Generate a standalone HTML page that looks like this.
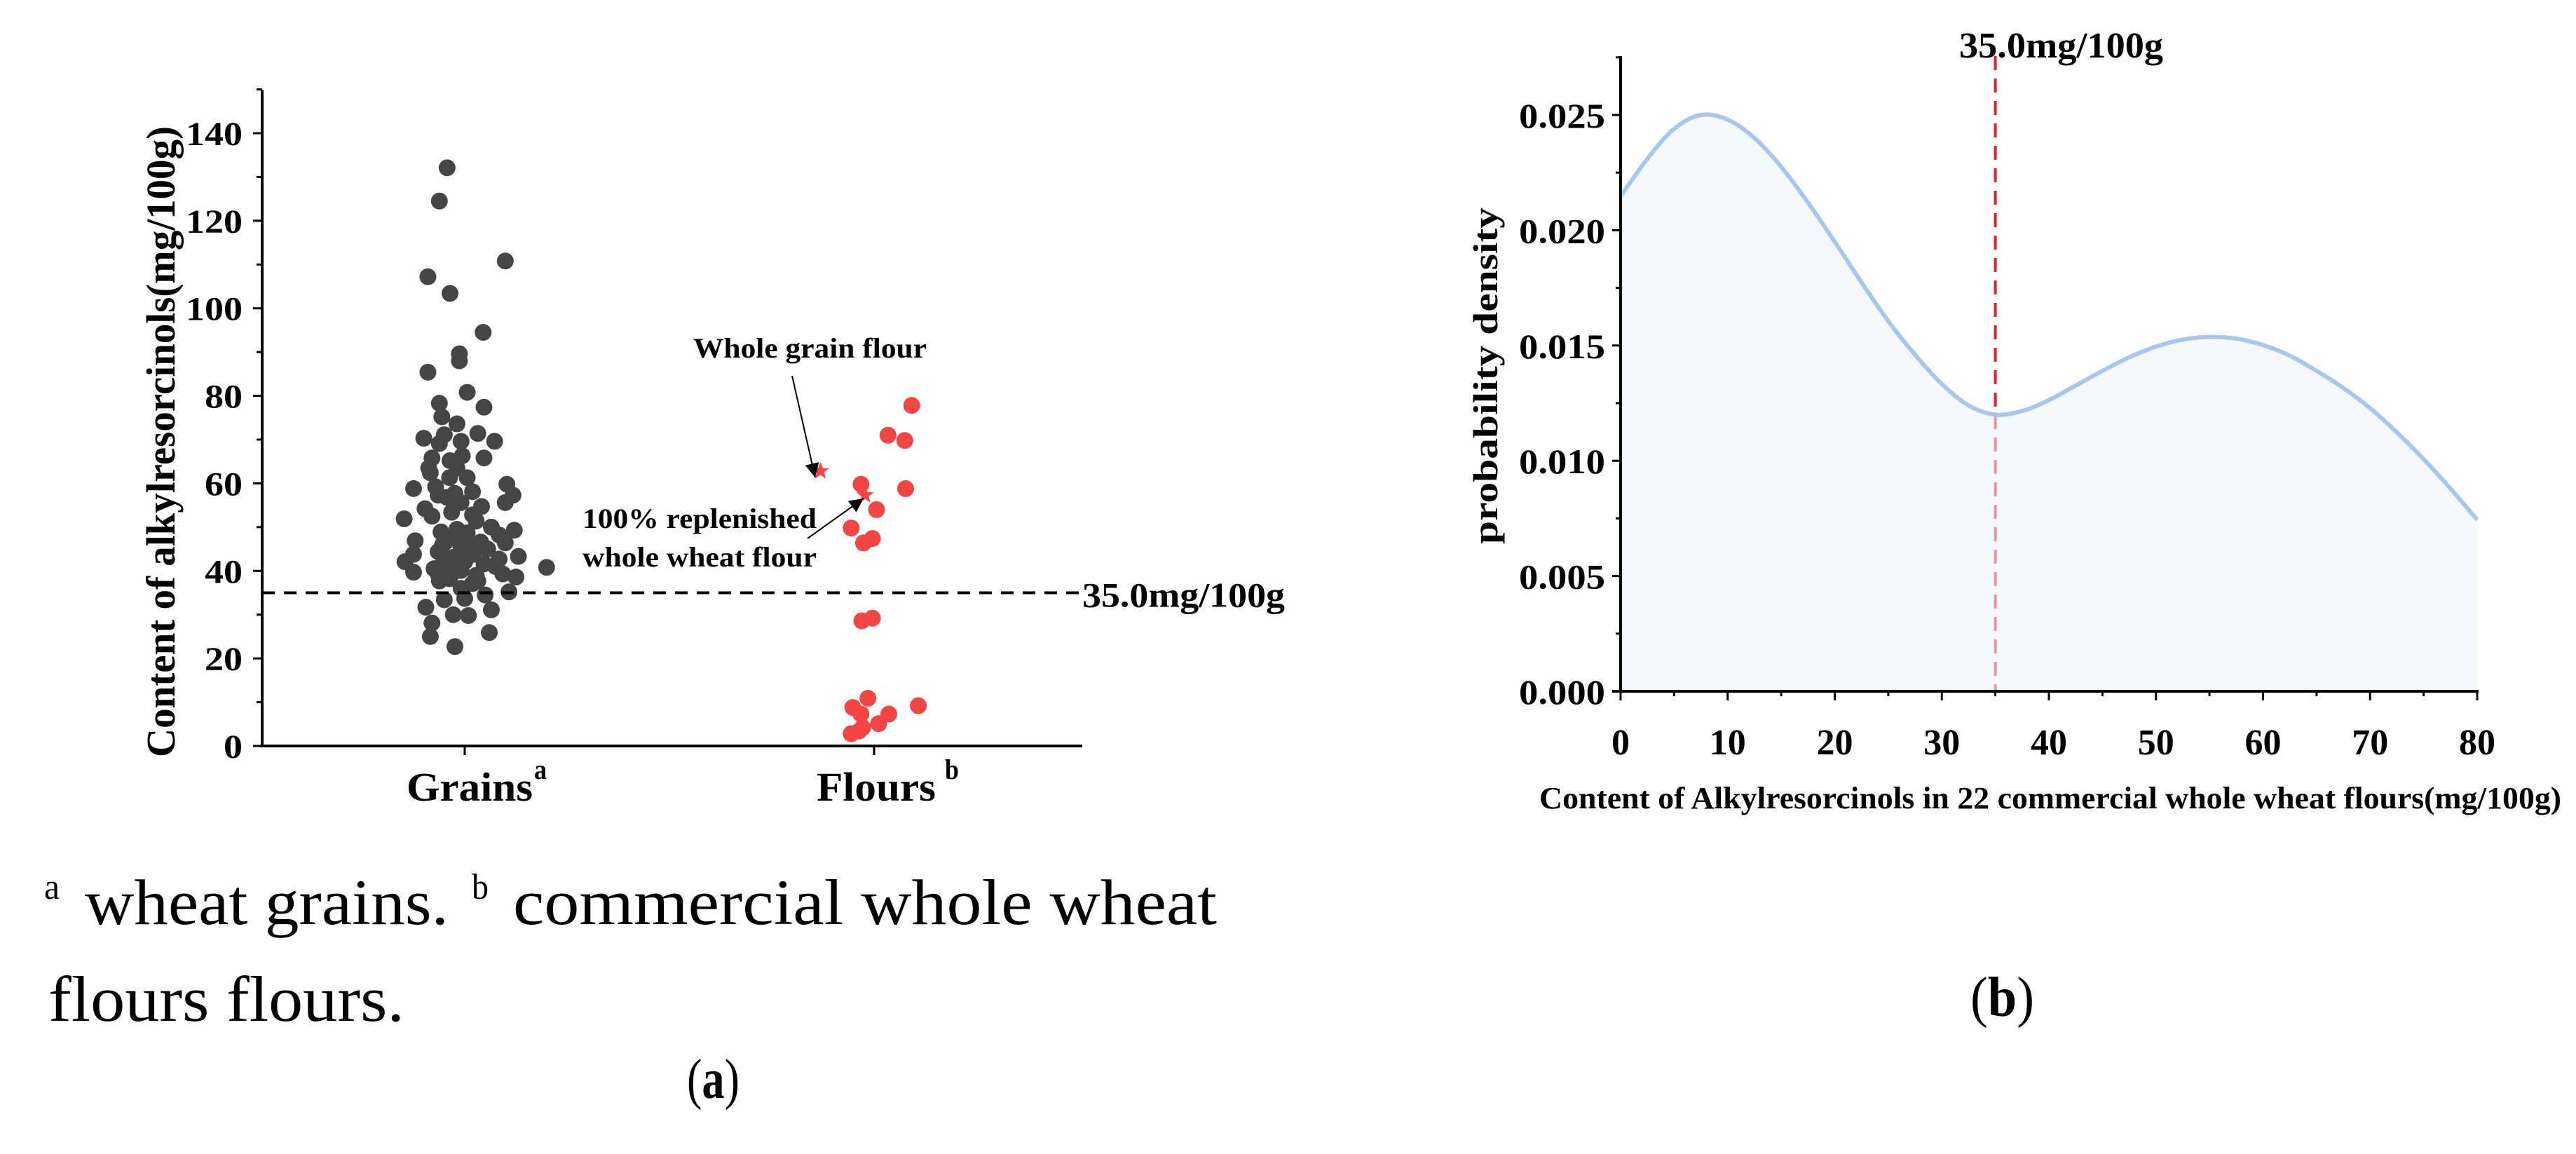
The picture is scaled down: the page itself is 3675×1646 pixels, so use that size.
<!DOCTYPE html>
<html><head><meta charset="utf-8">
<style>
html,body{margin:0;padding:0;background:#fff;}
svg{display:block;}
text{font-family:"Liberation Serif",serif;}
</style></head>
<body>
<svg id="fig" width="3675" height="1646" viewBox="0 0 3675 1646" xmlns="http://www.w3.org/2000/svg">
<defs>
<marker id="arr2" viewBox="0 0 10 10" refX="10" refY="5" markerWidth="26" markerHeight="20" markerUnits="userSpaceOnUse" orient="auto">
<path d="M0,0 L10,5 L0,10 z" fill="#000"/></marker>
</defs>
<g id="left"></g>
<g id="right"></g>
<g>
<text x="63" y="1282" font-size="52" textLength="22" lengthAdjust="spacingAndGlyphs">a</text>
<text x="121" y="1318" font-size="92" textLength="519" lengthAdjust="spacingAndGlyphs">wheat grains.</text>
<text x="673" y="1282" font-size="52" textLength="24" lengthAdjust="spacingAndGlyphs">b</text>
<text x="732" y="1318" font-size="92" textLength="1004" lengthAdjust="spacingAndGlyphs">commercial whole wheat</text>
<text x="69" y="1456" font-size="92" textLength="508" lengthAdjust="spacingAndGlyphs">flours flours.</text>
<text x="980" y="1566" font-size="80" textLength="75" lengthAdjust="spacingAndGlyphs">(<tspan font-weight="bold">a</tspan>)</text>
<text x="2811" y="1449" font-size="80" textLength="91" lengthAdjust="spacingAndGlyphs">(<tspan font-weight="bold">b</tspan>)</text>
</g>
</svg>
<script>
// ---------- Left chart data ----------
const categories = ['Grains', 'Flours'];
const grainValues = [132.1,124.5,110.8,107.2,103.4,94.5,89.6,88.0,85.4,80.8,78.3,77.4,75.2,73.6,70.3,71.1,71.4,69.6,69.6,69.1,65.8,65.8,65.2,66.3,63.5,63.5,62.4,61.3,61.3,59.8,58.8,59.2,58.1,57.3,57.7,55.6,57.3,54.7,54.2,53.4,52.8,52.5,51.9,51.4,50.0,49.3,48.9,48.7,48.2,47.8,46.9,46.6,46.4,46.0,45.5,45.0,44.4,43.8,43.8,43.3,43.1,42.7,42.1,42.1,41.2,41.6,40.8,40.5,40.1,39.7,39.3,39.0,38.6,38.2,37.7,37.7,36.0,34.5,35.2,33.4,33.7,31.7,31.1,30.0,29.8,28.1,25.0,25.9,22.7,42.1,39.9,46.6,46.6,49.5,37.1,41.0,39.3,55.6,56.8];
const grainJitter = [-0.043,-0.062,0.099,-0.09,-0.036,0.045,-0.013,-0.013,-0.09,0.006,-0.062,0.047,-0.056,-0.019,-0.1,-0.05,0.032,0.073,-0.009,-0.062,0.047,-0.08,-0.036,-0.006,-0.088,-0.019,-0.084,-0.037,0.006,0.103,-0.125,-0.071,0.019,0.118,-0.024,0.099,-0.065,0.041,-0.097,-0.032,0.019,-0.08,-0.148,0.028,0.065,0.121,-0.058,0.006,0.084,-0.022,-0.121,0.039,0.099,-0.054,-0.009,0.056,-0.065,0.021,-0.125,0.131,-0.028,0.084,-0.146,0,-0.056,0.047,0.2,-0.075,-0.009,-0.125,0.093,0.028,0.125,-0.037,-0.062,0.032,-0.009,0.05,0.108,-0.05,0,-0.095,0.065,-0.028,0.009,-0.08,-0.084,0.06,-0.024,-0.037,-0.024,0.009,-0.047,-0.019,0.019,0.075,-0.065,-0.009,-0.043];
const flourValues = [77.8,71.0,69.8,59.8,58.8,54.0,49.8,47.4,46.4,28.6,29.2,10.9,8.8,9.2,7.3,7.3,5.1,4.2,3.4,2.8];
const flourJitter = [0.092,0.034,0.075,-0.032,0.077,0.006,-0.056,-0.004,-0.026,-0.03,-0.004,-0.015,-0.052,0.108,-0.032,0.036,0.011,-0.028,-0.037,-0.056];
const starValues = [62.8, 57.3];
const starJitter = [-0.131, -0.022];
const leftYTicks = [0,20,40,60,80,100,120,140];
const thresholdValue = 35;

// ---------- Right chart data ----------
const kdeX = [0,2.5,5,7.5,10,12.5,15,17.5,20,22.5,25,27.5,30,32.5,35,37.5,40,42.5,45,47.5,50,52.5,55,57.5,60,62.5,65,67.5,70,72.5,75,77.5,80];
const kdeY = [0.02147,0.0231,0.02440,0.0250,0.0248,0.0240,0.02275,0.02120,0.0195,0.01774,0.01606,0.0146,0.01333,0.0124,0.0120,0.01216,0.01263,0.01326,0.0139,0.01449,0.01495,0.01526,0.01537,0.0153,0.01502,0.01456,0.0139,0.01316,0.01228,0.01123,0.01007,0.0088,0.00744];
const rightXTicks = [0,10,20,30,40,50,60,70,80];
const rightYTicks = [0,0.005,0.010,0.015,0.020,0.025];
const rightYTickLabels = ['0.000','0.005','0.010','0.015','0.020','0.025'];

const NS = 'http://www.w3.org/2000/svg';
function mk(parent, tag, attrs, text) {
  const el = document.createElementNS(NS, tag);
  for (const k in attrs) el.setAttribute(k, attrs[k]);
  if (text !== undefined) el.textContent = text;
  parent.appendChild(el);
  return el;
}

// ===== Left chart =====
const L = document.getElementById('left');
const lx0 = 374, lx1 = 1544, ly0 = 1064, lyTop = 128;
const lyScale = v => ly0 - v * (1064 - 190) / 140;
const catX = i => 663 + i * 584;
const catW = 584;

let e;
e = mk(L, 'line', {x1: lx0, y1: lyTop, x2: lx0, y2: ly0 + 1, stroke: '#000', 'stroke-width': 4});


e = mk(L, 'line', {x1: lx0 - 2, y1: ly0, x2: lx1, y2: ly0, stroke: '#000', 'stroke-width': 4});


for (let v = 0; v <= 150; v += 10) {
  const major = v % 20 === 0;
  e = mk(L, 'line', {x1: lx0 - (major ? 13 : 8), y1: lyScale(v), x2: lx0, y2: lyScale(v), stroke: '#000', 'stroke-width': 3});
  
  
}
leftYTicks.forEach(v => {
  const s = String(v);
  e = mk(L, 'text', {x: 346, y: lyScale(v) + 17, 'font-size': 48, 'font-weight': 'bold', 'text-anchor': 'end', textLength: s.length * 27, lengthAdjust: 'spacingAndGlyphs'}, s);
  
  
});
categories.forEach((c, i) => {
  e = mk(L, 'line', {x1: catX(i), y1: ly0, x2: catX(i), y2: ly0 + 13, stroke: '#000', 'stroke-width': 3});
  
  
});
e = mk(L, 'text', {x: 580, y: 1142, 'font-size': 58, 'font-weight': 'bold', textLength: 180, lengthAdjust: 'spacingAndGlyphs'}, 'Grains');


e = mk(L, 'text', {x: 762, y: 1111, 'font-size': 40, 'font-weight': 'bold', textLength: 18, lengthAdjust: 'spacingAndGlyphs'}, 'a');


e = mk(L, 'text', {x: 1165, y: 1142, 'font-size': 58, 'font-weight': 'bold', textLength: 170, lengthAdjust: 'spacingAndGlyphs'}, 'Flours');


e = mk(L, 'text', {x: 1348, y: 1111, 'font-size': 40, 'font-weight': 'bold', textLength: 20, lengthAdjust: 'spacingAndGlyphs'}, 'b');


e = mk(L, 'text', {x: 0, y: 0, 'font-size': 58, 'font-weight': 'bold', 'text-anchor': 'middle', transform: 'translate(249,630) rotate(-90)', textLength: 900, lengthAdjust: 'spacingAndGlyphs'}, 'Content of alkylresorcinols(mg/100g)');



// points
grainValues.forEach((v, i) => {
  e = mk(L, 'circle', {cx: catX(0) + grainJitter[i] * catW, cy: lyScale(v), r: 12, fill: '#454545'});
  
  
});
flourValues.forEach((v, i) => {
  e = mk(L, 'circle', {cx: catX(1) + flourJitter[i] * catW, cy: lyScale(v), r: 12, fill: '#f44545'});
  
  
});
function starPath(cx, cy, R) {
  let d = '';
  for (let k = 0; k < 10; k++) {
    const r = k % 2 ? R * 0.42 : R;
    const a = -Math.PI / 2 + k * Math.PI / 5;
    d += (k ? 'L' : 'M') + (cx + r * Math.cos(a)).toFixed(1) + ',' + (cy + r * Math.sin(a)).toFixed(1);
  }
  return d + 'Z';
}
starValues.forEach((v, i) => {
  e = mk(L, 'path', {d: starPath(catX(1) + starJitter[i] * catW, lyScale(v), 13), fill: '#f44545'});
  
  
});
// threshold
e = mk(L, 'line', {x1: lx0, y1: lyScale(thresholdValue), x2: 1539, y2: lyScale(thresholdValue), stroke: '#000', 'stroke-width': 4, 'stroke-dasharray': '18 13'});


e = mk(L, 'text', {x: 1544, y: lyScale(thresholdValue) + 20, 'font-size': 50, 'font-weight': 'bold', textLength: 289, lengthAdjust: 'spacingAndGlyphs'}, '35.0mg/100g');


// annotations
e = mk(L, 'text', {x: 989, y: 510, 'font-size': 40, 'font-weight': 'bold', textLength: 333, lengthAdjust: 'spacingAndGlyphs'}, 'Whole grain flour');


e = mk(L, 'line', {x1: 1130, y1: 536, x2: 1163, y2: 681, stroke: '#000', 'stroke-width': 2, 'marker-end': 'url(#arr2)'});


e = mk(L, 'text', {x: 831, y: 753, 'font-size': 40, 'font-weight': 'bold', textLength: 334, lengthAdjust: 'spacingAndGlyphs'}, '100% replenished');


e = mk(L, 'text', {x: 831, y: 808, 'font-size': 40, 'font-weight': 'bold', textLength: 334, lengthAdjust: 'spacingAndGlyphs'}, 'whole wheat flour');


e = mk(L, 'line', {x1: 1152, y1: 768, x2: 1232, y2: 711, stroke: '#000', 'stroke-width': 2, 'marker-end': 'url(#arr2)'});



// ===== Right chart =====
const R = document.getElementById('right');
const rx0 = 2312, ry0 = 986, ryTop = 80;
const rxScale = v => rx0 + v * (3534 - 2312) / 80;
const ryScale = v => ry0 - v * (986 - 164) / 0.025;

const pts = kdeX.map((x, i) => [rxScale(x), ryScale(kdeY[i])]);
let d = 'M' + pts[0][0] + ',' + pts[0][1];
for (let i = 0; i < pts.length - 1; i++) {
  const p0 = pts[Math.max(0, i - 1)], p1 = pts[i], p2 = pts[i + 1], p3 = pts[Math.min(pts.length - 1, i + 2)];
  const c1 = [p1[0] + (p2[0] - p0[0]) / 6, p1[1] + (p2[1] - p0[1]) / 6];
  const c2 = [p2[0] - (p3[0] - p1[0]) / 6, p2[1] - (p3[1] - p1[1]) / 6];
  d += 'C' + c1[0].toFixed(1) + ',' + c1[1].toFixed(1) + ' ' + c2[0].toFixed(1) + ',' + c2[1].toFixed(1) + ' ' + p2[0].toFixed(1) + ',' + p2[1].toFixed(1);
}
e = mk(R, 'line', {x1: rxScale(35), y1: ryTop, x2: rxScale(35), y2: ry0, stroke: '#e8202a', 'stroke-width': 4, 'stroke-dasharray': '20 12'});


e = mk(R, 'path', {d: d + 'L' + rxScale(80) + ',' + ry0 + 'L' + rxScale(0) + ',' + ry0 + 'Z', fill: 'rgba(236,244,253,0.55)'});


e = mk(R, 'path', {d: d, fill: 'none', stroke: '#a7c6f0', 'stroke-width': 6});



e = mk(R, 'line', {x1: rx0, y1: ryTop, x2: rx0, y2: ry0 + 2, stroke: '#000', 'stroke-width': 4});


e = mk(R, 'line', {x1: rx0 - 12, y1: ry0, x2: 3536, y2: ry0, stroke: '#000', 'stroke-width': 4});


for (let k = 0; k <= 11; k++) {
  const v = k * 0.0025, major = k % 2 === 0;
  e = mk(R, 'line', {x1: rx0 - (major ? 12 : 7), y1: ryScale(v), x2: rx0, y2: ryScale(v), stroke: '#000', 'stroke-width': 3});
  
  
}
rightYTicks.forEach((v, i) => {
  e = mk(R, 'text', {x: 2290, y: ryScale(v) + 18, 'font-size': 50, 'font-weight': 'bold', 'text-anchor': 'end', textLength: 123, lengthAdjust: 'spacingAndGlyphs'}, rightYTickLabels[i]);
  
  
});
for (let v = 0; v <= 80; v += 5) {
  const major = v % 10 === 0;
  e = mk(R, 'line', {x1: rxScale(v), y1: ry0, x2: rxScale(v), y2: ry0 + (major ? 13 : 7), stroke: '#000', 'stroke-width': 3});
  
  
}
rightXTicks.forEach(v => {
  const s = String(v);
  e = mk(R, 'text', {x: rxScale(v), y: 1076, 'font-size': 52, 'font-weight': 'bold', 'text-anchor': 'middle', textLength: s.length * 26, lengthAdjust: 'spacingAndGlyphs'}, s);
  
  
});
e = mk(R, 'text', {x: 2196, y: 1153, 'font-size': 44, 'font-weight': 'bold', textLength: 1458, lengthAdjust: 'spacingAndGlyphs'}, 'Content of Alkylresorcinols in 22 commercial whole wheat flours(mg/100g)');


e = mk(R, 'text', {x: 0, y: 0, 'font-size': 50, 'font-weight': 'bold', 'text-anchor': 'middle', transform: 'translate(2136,536) rotate(-90)', textLength: 480, lengthAdjust: 'spacingAndGlyphs'}, 'probability density');


e = mk(R, 'text', {x: 2795, y: 82, 'font-size': 52, 'font-weight': 'bold', textLength: 291, lengthAdjust: 'spacingAndGlyphs'}, '35.0mg/100g');


</script>
</body></html>
